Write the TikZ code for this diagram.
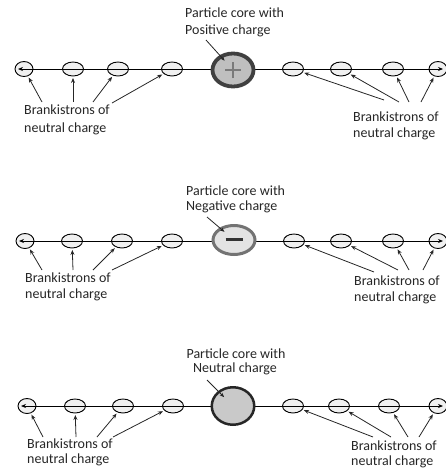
\documentclass[tikz,border=0pt]{standalone}
\usepackage{fontspec}
\setmainfont{Carlito}
\usetikzlibrary{shapes.geometric,arrows.meta}
\begin{document}
\begin{tikzpicture}[x=1pt,y=-1pt,
  bk/.style={ellipse,draw=black,line width=0.9pt,fill=gray!12,minimum width=21pt,minimum height=14pt,inner sep=0pt},
  bkend/.style={bk,minimum width=18pt,minimum height=15pt},
  axisline/.style={line width=0.8pt,{Stealth[length=5pt,width=4pt]}-{Stealth[length=5pt,width=4pt]}},
  ptr/.style={line width=0.8pt,draw=black!85,-{Stealth[length=5pt,width=4pt]},shorten >=1.5pt},
  coreptr/.style={line width=0.8pt,draw=black!85,-{Stealth[length=4.5pt,width=3.5pt]},shorten >=12.5pt},
  lbl/.style={anchor=base west,inner sep=0pt,font=\fontsize{14}{17}\selectfont,text=black!85},
  lblc/.style={lbl,anchor=base},
  coreA/.style={ellipse,inner sep=0pt,draw=black!75,line width=3.8pt,fill=gray!50,minimum width=41pt,minimum height=33pt},
  coreB/.style={ellipse,inner sep=0pt,draw=black!55,line width=3pt,fill=gray!22,minimum width=42pt,minimum height=29pt},
  coreC/.style={ellipse,inner sep=0pt,draw=black!85,line width=2.5pt,fill=gray!42,minimum width=42.5pt,minimum height=37.5pt},
  plussign/.style={draw=black!52,line width=2.5pt},
  minussign/.style={draw=black!80,line width=3pt}
]
\useasboundingbox (0,0) rectangle (446,469);

% ---------------- Row 1 : positive core ----------------
\node[bkend] (e11) at (24,69) {};
\node[bk] (e12) at (73,69) {};
\node[bk] (e13) at (118,69) {};
\node[bk] (e14) at (172,69) {};
\node[bk] (e15) at (293,69) {};
\node[bk] (e16) at (341,69) {};
\node[bk] (e17) at (393,69) {};
\node[bkend] (e18) at (438,69) {};
\coordinate (s11) at (18,69);
\coordinate (s12) at (443,69);
\draw[axisline] (s11) -- (s12);
\node[coreA] (c1) at (233,70) {};
\draw[plussign] ([xshift=-8pt]c1.center) -- ([xshift=8pt]c1.center);
\draw[plussign] ([yshift=-8pt]c1.center) -- ([yshift=8pt]c1.center);

\node[lbl] (t1a) at (185,17) {Particle core with};
\node[lbl] (t1b) at (185,34) {Positive charge};
\coordinate (q1) at (206,40);
\draw[coreptr] (q1) -- (c1.center);

\node[lbl] (l1a) at (24,114) {Brankistrons of};
\node[lbl] (l1b) at (24,132) {neutral charge};
\node[lbl] (r1a) at (353,121) {Brankistrons of};
\node[lbl] (r1b) at (353,137) {neutral charge};
\coordinate (a11) at (42,102);  \draw[ptr] (a11) -- (e11);
\coordinate (a12) at (73,102);  \draw[ptr] (a12) -- (e12);
\coordinate (a13) at (93,102);  \draw[ptr] (a13) -- (e13);
\coordinate (a14) at (112,103); \draw[ptr] (a14) -- (e14);
\coordinate (a15) at (384,100); \draw[ptr] (a15) -- (e15);
\coordinate (a16) at (399,102); \draw[ptr] (a16) -- (e16);
\coordinate (a17) at (409,102); \draw[ptr] (a17) -- (e17);
\coordinate (a18) at (421,102); \draw[ptr] (a18) -- (e18);

% ---------------- Row 2 : negative core ----------------
\node[bkend] (e21) at (25,241) {};
\node[bk] (e22) at (72,241) {};
\node[bk] (e23) at (122,241) {};
\node[bk] (e24) at (172,241) {};
\node[bk] (e25) at (294,241) {};
\node[bk] (e26) at (341,241) {};
\node[bk] (e27) at (393,241) {};
\node[bkend] (e28) at (438,241) {};
\coordinate (s21) at (19,241);
\coordinate (s22) at (443,241);
\draw[axisline] (s21) -- (s22);
\node[coreB] (c2) at (234,240) {};
\draw[minussign] ([xshift=-8.5pt,yshift=1pt]c2.center) -- ([xshift=8.5pt,yshift=1pt]c2.center);

\node[lbl] (t2a) at (186,195) {Particle core with};
\node[lbl] (t2b) at (186,210) {Negative charge};
\coordinate (q2) at (207,217);
\draw[coreptr] (q2) -- (c2.center);

\node[lbl] (l2a) at (25,282) {Brankistrons of};
\node[lbl] (l2b) at (25,298) {neutral charge};
\node[lbl] (r2a) at (354,285) {Brankistrons of};
\node[lbl] (r2b) at (354,301) {neutral charge};
\coordinate (a21) at (42,270);  \draw[ptr] (a21) -- (e21);
\coordinate (a22) at (73,270);  \draw[ptr] (a22) -- (e22);
\coordinate (a23) at (93,270);  \draw[ptr] (a23) -- (e23);
\coordinate (a24) at (112,270); \draw[ptr] (a24) -- (e24);
\coordinate (a25) at (374,272); \draw[ptr] (a25) -- (e25);
\coordinate (a26) at (398,270); \draw[ptr] (a26) -- (e26);
\coordinate (a27) at (409,270); \draw[ptr] (a27) -- (e27);
\coordinate (a28) at (423,270); \draw[ptr] (a28) -- (e28);

% ---------------- Row 3 : neutral core ----------------
\node[bkend] (e31) at (27,406) {};
\node[bk] (e32) at (75,406) {};
\node[bk] (e33) at (123,406) {};
\node[bk] (e34) at (173,406) {};
\node[bk] (e35) at (293,406) {};
\node[bk] (e36) at (339,406) {};
\node[bk] (e37) at (389,406) {};
\node[bkend] (e38) at (438,406) {};
\coordinate (s31) at (21,406);
\coordinate (s32) at (443,406);
\draw[axisline] (s31) -- (s32);
\node[coreC] (c3) at (233,406) {};

\node[lblc] (t3a) at (236,358) {Particle core with};
\node[lblc] (t3b) at (235,372) {Neutral charge};
\coordinate (q3) at (207,380);
\draw[coreptr] (q3) -- (c3.center);

\node[lbl] (l3a) at (27,448) {Brankistrons of};
\node[lbl] (l3b) at (27,463) {neutral charge};
\node[lbl] (r3a) at (351,450) {Brankistrons of};
\node[lbl] (r3b) at (351,465) {neutral charge};
\coordinate (a31) at (43,437);  \draw[ptr] (a31) -- (e31);
\coordinate (a32) at (76,437);  \draw[ptr] (a32) -- (e32);
\coordinate (a33) at (97,437);  \draw[ptr] (a33) -- (e33);
\coordinate (a34) at (113,437); \draw[ptr] (a34) -- (e34);
\coordinate (a35) at (373,437); \draw[ptr] (a35) -- (e35);
\coordinate (a36) at (391,437); \draw[ptr] (a36) -- (e36);
\coordinate (a37) at (408,437); \draw[ptr] (a37) -- (e37);
\coordinate (a38) at (419,437); \draw[ptr] (a38) -- (e38);
\end{tikzpicture}
\end{document}
